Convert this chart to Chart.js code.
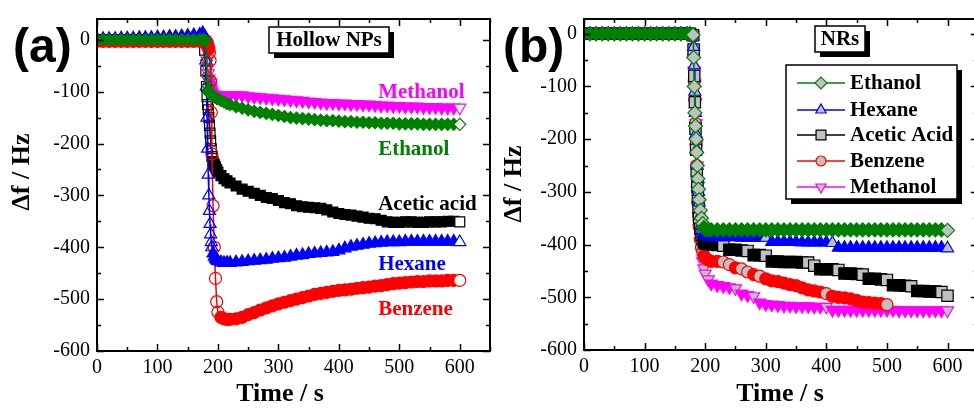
<!DOCTYPE html>
<html>
<head>
<meta charset="utf-8">
<script src="https://cdn.jsdelivr.net/npm/chart.js@4.4.1/dist/chart.umd.min.js"></script>
<style>
  html, body { margin: 0; padding: 0; background: #fff; overflow: hidden; }
  #wrap { position: relative; width: 974px; height: 409px; overflow: hidden; }
  canvas { position: absolute; top: 0; }
  #chart-a { left: 0; }
  #chart-b { left: 487px; }
</style>
</head>
<body>
<div id="wrap">
  <canvas id="chart-a" width="500" height="409"></canvas>
  <canvas id="chart-b" width="500" height="409"></canvas>
</div>
<script>
const SERIF = "'Liberation Serif', 'Times New Roman', serif"
const SANS = "'Liberation Sans', Arial, sans-serif"

const xTicks = [0, 100, 200, 300, 400, 500, 600]
const yTicks = [-600, -500, -400, -300, -200, -100, 0]

// ---- panel (a): hollow NPs ----
const timeA = [
  0, 10, 20, 30, 40, 50, 60, 70, 80, 90, 100, 110, 120, 130, 140, 150, 160, 170,
  175, 178, 180, 181, 182, 183, 184, 185, 186, 187, 188, 189, 190,
  192, 194, 196, 198, 200,
  205, 210, 215,
  220, 230, 240, 250, 260, 270, 280, 290, 300, 310, 320, 330, 340, 350, 360, 370, 380, 390, 400,
  410, 420, 430, 440, 450, 460, 470, 480, 490, 500, 510, 520, 530, 540, 550, 560, 570, 580, 590, 600,
]
const ethanolA = [
  0, 0, 0, 0, 0, 0, 0, 0, 0, 0, 0, 0, 0, 0, 0, 0, 0, 0,
  0, 0, -2, -40, -70, -88, -97, -101, -103, -104, -105, -106, -107,
  -108, -110, -111, -113, -114,
  -117, -120, -123,
  -125, -129, -132, -135, -138, -140, -142, -144, -146, -148, -150, -151, -152, -153, -154, -155, -156, -156, -157,
  -158, -158, -159, -159, -160, -160, -161, -161, -161, -162, -162, -162, -162, -163, -163, -163, -163, -163, -163, -163,
]
const methanolA = [
  0, 0, 0, 0, 0, 0, 0, 0, 0, 0, 0, 0, 0, 0, 0, 0, 0, 0,
  0, 0, -5, -20, -40, -55, -65, -75, -82, -88, -92, -96, -100,
  -104, -106, -107, -108, -108,
  -108, -107, -107,
  -107, -107, -107, -109, -110, -111, -112, -113, -114, -115, -116, -117, -118, -119, -120, -121, -122, -122, -123,
  -123, -124, -124, -125, -125, -126, -127, -127, -128, -128, -129, -129, -129, -130, -130, -130, -131, -131, -131, -131,
]
const aceticA = [
  0, 0, 0, 0, 0, 0, 0, 0, 0, 0, 0, 0, 0, 0, 0, 0, 0, 0,
  0, -20, -60, -90, -110, -125, -135, -150, -165, -180, -195, -210, -225,
  -235, -240, -245, -250, -255,
  -262, -268, -272,
  -276, -282, -288, -292, -296, -300, -304, -306, -310, -314, -316, -320, -322, -323, -324, -325, -328, -332, -335,
  -337, -338, -340, -342, -344, -345, -348, -351, -352, -352, -351, -351, -352, -352, -351, -351, -351, -350, -350, -351,
]
const hexaneA = [
  2, 2, 2, 2, 3, 3, 3, 4, 4, 4, 5, 5, 6, 6, 7, 8, 9, 10,
  13, 6, -40, -90, -150, -210, -260, -300, -330, -355, -375, -390, -400,
  -412, -418, -422, -425, -427,
  -429, -430, -430,
  -430, -429, -428, -427, -426, -425, -424, -422, -421, -420, -418, -416, -415, -413, -412, -411, -410, -409, -406,
  -402, -399, -397, -395, -393, -392, -391, -390, -390, -390, -389, -389, -389, -389, -389, -389, -389, -389, -389, -390,
]
const benzeneA = [
  -3, -3, -3, -3, -3, -3, -3, -3, -3, -3, -3, -3, -3, -3, -3, -3, -3, -3,
  -3, -3, -3, -4, -5, -8, -12, -18, -25, -40, -80, -140, -220,
  -320, -400, -460, -505, -525,
  -535, -538, -539,
  -539, -538, -535, -530, -526, -521, -517, -513, -509, -506, -503, -500, -497, -494, -491, -489, -487, -485, -483,
  -482, -481, -479, -478, -477, -475, -474, -472, -470, -469, -468, -467, -466, -466, -465, -465, -465, -464, -464, -464,
]
const namesA = ['Methanol', 'Ethanol', 'Acetic acid', 'Hexane', 'Benzene']

// ---- panel (b): NRs ----
const timeB = [
  0, 10, 20, 30, 40, 50, 60, 70, 80, 90, 100, 110, 120, 130, 140, 150, 160, 170,
  175, 180, 181, 182, 183, 184, 185, 186, 187, 188, 189, 190,
  192, 194, 196, 198, 200,
  205, 210,
  220, 230, 240, 250, 260, 270, 280, 290, 300, 310, 320, 330, 340, 350, 360, 370, 380, 390, 400,
  410, 420, 430, 440, 450, 460, 470, 480, 490, 500, 510, 520, 530, 540, 550, 560, 570, 580, 590, 600,
]
const ethanolB = [
  0, 0, 0, 0, 0, 0, 0, 0, 0, 0, 0, 0, 0, 0, 0, 0, 0, 0,
  0, -2, -45, -100, -150, -175, -200, -225, -250, -275, -295, -315,
  -335, -350, -360, -368, -371,
  -372, -372,
  -372, -372, -372, -372, -372, -372, -372, -372, -372, -372, -372, -372, -372, -372, -372, -372, -372, -372, -372,
  -372, -372, -372, -372, -372, -372, -372, -372, -372, -372, -372, -372, -372, -372, -372, -372, -372, -372, -372, -373,
]
const hexaneB = [
  0, 0, 0, 0, 0, 0, 0, 0, 0, 0, 0, 0, 0, 0, 0, 0, 0, 0,
  0, -5, -25, -60, -110, -150, -190, -220, -250, -275, -300, -320,
  -345, -362, -372, -378, -382,
  -385, -386,
  -386, -386, -386, -386, -387, -387, -387, -387, -387, -395, -395, -395, -395, -395, -396, -396, -396, -396, -396,
  -397, -406, -406, -406, -406, -406, -406, -406, -406, -406, -406, -406, -406, -406, -406, -406, -406, -406, -406, -407,
]
const aceticB = [
  0, 0, 0, 0, 0, 0, 0, 0, 0, 0, 0, 0, 0, 0, 0, 0, 0, 0,
  0, -3, -30, -80, -130, -180, -220, -260, -290, -310, -330, -350,
  -370, -382, -390, -395, -398,
  -399, -400,
  -401, -402, -410, -410, -411, -412, -420, -420, -421, -432, -432, -433, -433, -433, -434, -434, -440, -447, -447,
  -447, -448, -455, -455, -456, -457, -465, -465, -466, -467, -477, -477, -478, -479, -488, -488, -489, -489, -490, -497,
]
const benzeneB = [
  0, 0, 0, 0, 0, 0, 0, 0, 0, 0, 0, 0, 0, 0, 0, 0, 0, 0,
  0, -5, -40, -90, -125, -170, -210, -250, -290, -320, -345, -365,
  -390, -405, -415, -421, -425,
  -429, -432,
  -432, -433, -438, -444, -446, -452, -457, -460, -465, -469, -470, -473, -476, -478, -482, -486, -488, -490, -493,
  -498, -500, -501, -503, -506, -509, -510, -511, -512, -514, null, null, null, null, null, null, null, null, null, null,
]
const methanolB = [
  0, 0, 0, 0, 0, 0, 0, 0, 0, 0, 0, 0, 0, 0, 0, 0, 0, 0,
  0, -3, -30, -70, -95, -130, -170, -210, -250, -290, -330, -360,
  -395, -415, -432, -445, -455,
  -466, -474,
  -477, -479, -481, -483, -493, -496, -498, -510, -513, -514, -515, -516, -516, -517, -517, -517, -518, -518, -518,
  -524, -524, -524, -524, -524, -524, -524, -524, -524, -524, -524, -525, -525, -525, -525, -525, -525, -525, -525, -525,
]
const namesB = ['Ethanol', 'Hexane', 'Acetic Acid', 'Benzene', 'Methanol']

const GREEN = '#008000', BLUE = '#0000ff', BLACK = '#000000', RED = '#ff0000', MAGENTA = '#ff00ff'

function series(label, time, vals, color, shape, rot, radius, look) {
  const pts = time.map((t, i) => ({ x: t, y: vals[i] }))
  const last = vals.reduce((k, v, i) => (v == null ? k : i), 0)
  return {
    label, data: pts,
    borderColor: color, borderWidth: 1.5,
    pointStyle: shape, pointRotation: rot, pointRadius: radius,
    pointBorderColor: color, pointBorderWidth: 1.2,
    pointBackgroundColor: c => {
      const i = c.dataIndex, nx = pts[i + 1]
      if (i === last) return look.endFill
      if (nx && nx.y != null && Math.abs(nx.y - pts[i].y) >= look.jump) return look.jumpFill
      return color
    },
  }
}

function boxed(ctx, x, y, w, h) {
  ctx.fillStyle = '#000'
  ctx.fillRect(x + 5, y + 5, w, h)
  ctx.fillStyle = '#fff'
  ctx.fillRect(x, y, w, h)
  ctx.lineWidth = 1.5
  ctx.strokeStyle = '#000'
  ctx.strokeRect(x, y, w, h)
}

const frame = {
  id: 'frame',
  afterDraw(chart, _args, o) {
    const { ctx, chartArea: a, scales: { x, y } } = chart
    ctx.save()
    ctx.strokeStyle = '#000'
    ctx.lineWidth = 1.5
    ctx.beginPath()
    for (let v = 0; v <= x.max; v += 50) {
      const p = Math.round(x.getPixelForValue(v)) + 0.5, len = v % 100 ? 4 : 7
      ctx.moveTo(p, a.bottom); ctx.lineTo(p, a.bottom - len)
      ctx.moveTo(p, a.top); ctx.lineTo(p, a.top + len)
    }
    for (let v = -600; v <= y.max; v += 50) {
      const p = Math.round(y.getPixelForValue(v)) + 0.5, len = v % 100 ? 4 : 7
      ctx.moveTo(a.left, p); ctx.lineTo(a.left + len, p)
      ctx.moveTo(a.right, p); ctx.lineTo(a.right - len, p)
    }
    ctx.stroke()
    ctx.lineWidth = 2
    ctx.strokeRect(a.left, a.top, a.right - a.left, a.bottom - a.top)

    ctx.fillStyle = '#000'
    ctx.font = `bold 26px ${SERIF}`
    ctx.textAlign = 'center'
    ctx.textBaseline = 'middle'
    ctx.fillText('Time / s', o.xTitle[0], o.xTitle[1])
    ctx.save()
    ctx.translate(o.yTitle[0], o.yTitle[1])
    ctx.rotate(-Math.PI / 2)
    ctx.fillText('Δf / Hz', 0, 0)
    ctx.restore()

    ctx.font = `bold 48px ${SANS}`
    ctx.textAlign = 'left'
    ctx.textBaseline = 'alphabetic'
    ctx.fillText(o.letter, o.letterAt[0], o.letterAt[1])

    const t = o.tag
    boxed(ctx, t.x, t.y, t.w, t.h)
    ctx.fillStyle = '#000'
    ctx.font = `bold 21px ${SERIF}`
    ctx.textAlign = 'center'
    ctx.textBaseline = 'middle'
    ctx.fillText(t.text, t.x + t.w / 2, t.y + t.h / 2 + 1)

    ctx.textAlign = 'left'
    ;(o.labels || []).forEach(l => {
      ctx.fillStyle = l.color
      ctx.fillText(l.text, x.getPixelForValue(l.x), y.getPixelForValue(l.y))
    })

    const lg = o.legend
    if (lg) {
      boxed(ctx, lg.x, lg.y, lg.w, lg.h)
      chart.data.datasets.forEach((ds, i) => {
        const ry = lg.rows[i]
        ctx.strokeStyle = ds.borderColor
        ctx.lineWidth = 1.5
        ctx.beginPath()
        ctx.moveTo(lg.line[0], ry); ctx.lineTo(lg.line[1], ry)
        ctx.stroke()
        ctx.fillStyle = '#c0c0c0'
        ctx.lineWidth = 1.2
        Chart.helpers.drawPoint(ctx, {
          pointStyle: ds.pointStyle, rotation: ds.pointRotation,
          radius: ds.pointRadius - 1, borderWidth: 1.2,
        }, (lg.line[0] + lg.line[1]) / 2, ry)
        ctx.fillStyle = '#000'
        ctx.font = `bold 21px ${SERIF}`
        ctx.textBaseline = 'middle'
        ctx.fillText(ds.label, lg.textX, ry + 1)
      })
    }
    ctx.restore()
  },
}

function makeChart(id, datasets, cfg) {
  const tickFont = { family: SERIF, size: 20 }
  return new Chart(document.getElementById(id), {
    type: 'line',
    data: { datasets },
    options: {
      responsive: false,
      animation: false,
      events: [],
      layout: { padding: { left: 0, top: 14, right: cfg.padRight, bottom: 0 } },
      plugins: { legend: { display: false }, tooltip: { enabled: false }, frame: cfg.frame },
      scales: {
        x: {
          type: 'linear', min: 0, max: 650,
          grid: { display: false, tickLength: 0 }, border: { display: false },
          afterFit: s => { s.height = cfg.xHeight },
          afterBuildTicks: s => { s.ticks = xTicks.map(v => ({ value: v })) },
          ticks: { autoSkip: false, maxRotation: 0, padding: 5, color: '#000', font: tickFont },
        },
        y: {
          type: 'linear', min: -600, max: cfg.yMax,
          grid: { display: false, tickLength: 0 }, border: { display: false },
          afterFit: s => { s.width = 97 },
          afterBuildTicks: s => { s.ticks = yTicks.map(v => ({ value: v })) },
          ticks: { autoSkip: false, padding: 7, color: '#000', font: tickFont },
        },
      },
    },
    plugins: [frame],
  })
}

const lookA = { jump: 8, jumpFill: 'rgba(255,255,255,0)', endFill: '#ffffff' }
makeChart('chart-a', [
  series('Ethanol', timeA, ethanolA, GREEN, 'rectRot', 0, 6, lookA),
  series('Hexane', timeA, hexaneA, BLUE, 'triangle', 0, 7, lookA),
  series('Benzene', timeA, benzeneA, RED, 'circle', 0, 6, lookA),
  series('Acetic acid', timeA, aceticA, BLACK, 'rect', 0, 7, lookA),
  series('Methanol', timeA, methanolA, MAGENTA, 'triangle', 180, 7, lookA),
], {
  padRight: 10, xHeight: 58, yMax: 40,
  frame: {
    xTitle: [280, 394], yTitle: [22, 172],
    letter: '(a)', letterAt: [13, 62],
    tag: { x: 269, y: 27, w: 120, h: 26, text: 'Hollow NPs' },
    labels: [
      { text: namesA[0], color: MAGENTA, x: 465, y: -101 },
      { text: namesA[1], color: GREEN, x: 465, y: -212 },
      { text: namesA[2], color: BLACK, x: 465, y: -317 },
      { text: namesA[3], color: BLUE, x: 465, y: -433 },
      { text: namesA[4], color: RED, x: 465, y: -520 },
    ],
  },
})

const lookB = { jump: 5, jumpFill: '#c0c0c0', endFill: '#c0c0c0' }
makeChart('chart-b', [
  series(namesB[0], timeB, ethanolB, GREEN, 'rectRot', 0, 7, lookB),
  series(namesB[1], timeB, hexaneB, BLUE, 'triangle', 0, 7, lookB),
  series(namesB[2], timeB, aceticB, BLACK, 'rect', 0, 8, lookB),
  series(namesB[3], timeB, benzeneB, RED, 'circle', 0, 6, lookB),
  series(namesB[4], timeB, methanolB, MAGENTA, 'triangle', 180, 7, lookB),
], {
  padRight: 9, xHeight: 59, yMax: 28,
  frame: {
    xTitle: [293, 394], yTitle: [27, 184],
    letter: '(b)', letterAt: [16, 62],
    tag: { x: 328, y: 26, w: 50, h: 26, text: 'NRs' },
    legend: { x: 299, y: 65, w: 171, h: 134, rows: [83, 110, 135, 161, 187], line: [310, 358], textX: 363 },
  },
})
</script>
</body>
</html>
